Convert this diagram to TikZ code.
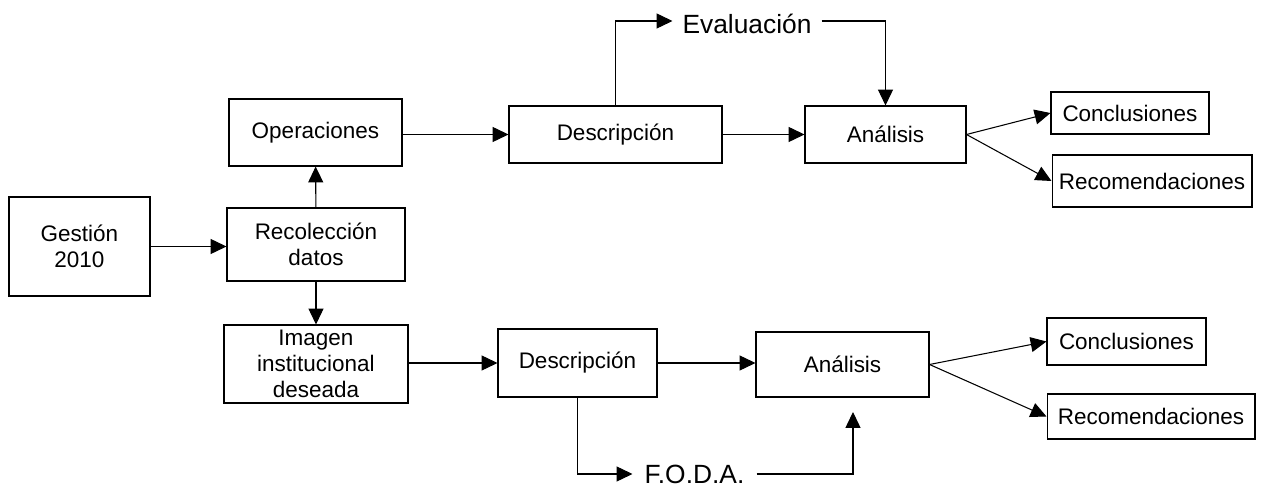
\documentclass[tikz,border=0pt]{standalone}
\usepackage{fontspec}
\setmainfont{Liberation Sans}
\usetikzlibrary{positioning, arrows.meta}

\begin{document}
\begin{tikzpicture}[
    x=0.02cm, y=-0.02cm,
    line width=0.6pt,
    >={Triangle[length=9pt, width=8.5pt]},
    box/.style={draw, rectangle, align=center, inner sep=0pt,
        font=\fontsize{12.8}{15}\selectfont},
    label text/.style={rectangle, inner xsep=0pt, inner ysep=0pt,
        font=\fontsize{15}{18}\selectfont}
]
\useasboundingbox (0,0) rectangle (1262,489);

% Start
\node[box, minimum width=2.82cm, minimum height=1.98cm] (gestion) at (79.5,246.5) {Gestión\\2010};
\node[box, minimum width=3.56cm, minimum height=1.46cm] (recol) at (316,244.5) {Recolección\\datos};
\node[box, minimum width=3.46cm, minimum height=1.34cm] (oper) at (315.5,132.5) {Operaciones};
\node[box, minimum width=3.68cm, minimum height=1.56cm] (imagen) at (316,364) {Imagen\\institucional\\deseada};

% Upper branch
\node[box, minimum width=4.26cm, minimum height=1.14cm] (desc_up) at (615.5,134.5) {Descripción};
\node[box, minimum width=3.22cm, minimum height=1.14cm] (anal_up) at (885.5,134.5) {Análisis};
\node[box, minimum width=3.16cm, minimum height=0.84cm] (conc_up) at (1130,113) {Conclusiones};
\node[box, minimum width=4.00cm, minimum height=1.04cm] (recom_up) at (1152,181) {Recomendaciones};
\node[label text, minimum width=2.96cm, text height=0.52cm, text depth=0pt] (eval) at (747,21) {Evaluación};

% Lower branch
\node[box, minimum width=3.18cm, minimum height=1.36cm] (desc_low) at (577.5,363) {Descripción};
\node[box, minimum width=3.46cm, minimum height=1.30cm] (anal_low) at (842.5,364.5) {Análisis};
\node[box, minimum width=3.18cm, minimum height=0.94cm] (conc_low) at (1126.5,341.5) {Conclusiones};
\node[box, minimum width=4.16cm, minimum height=0.90cm] (recom_low) at (1151,416.5) {Recomendaciones};
\node[label text, minimum width=2.46cm] (foda) at (694.5,474) {F.O.D.A.};
\coordinate (foda_end) at (853,412);

\draw[->] (gestion.east) -- (gestion.east -| recol.west);
\draw[->] (recol) -- (oper);
\draw[->] (recol) -- (imagen);

\draw[->] (desc_up.west -| oper.east) -- (desc_up.west);
\draw[->] (desc_up.east) -- (desc_up.east -| anal_up.west);
\draw[->] (anal_up.east) -- (conc_up.west);
\draw[->] (anal_up.east) -- (recom_up.west);
\draw[->] (desc_up.north) |- (eval.west);
\draw[->] (eval.east) -| (anal_up.north);

\draw[->] (desc_low.west -| imagen.east) -- (desc_low.west);
\draw[->] (desc_low.east) -- (desc_low.east -| anal_low.west);
\draw[->] (anal_low.east) -- (conc_low.west);
\draw[->] (anal_low.east) -- (recom_low.west);
\draw[->] (desc_low.south) |- (foda.west);
\draw[->] (foda.east) -| (foda_end);

\end{tikzpicture}
\end{document}
